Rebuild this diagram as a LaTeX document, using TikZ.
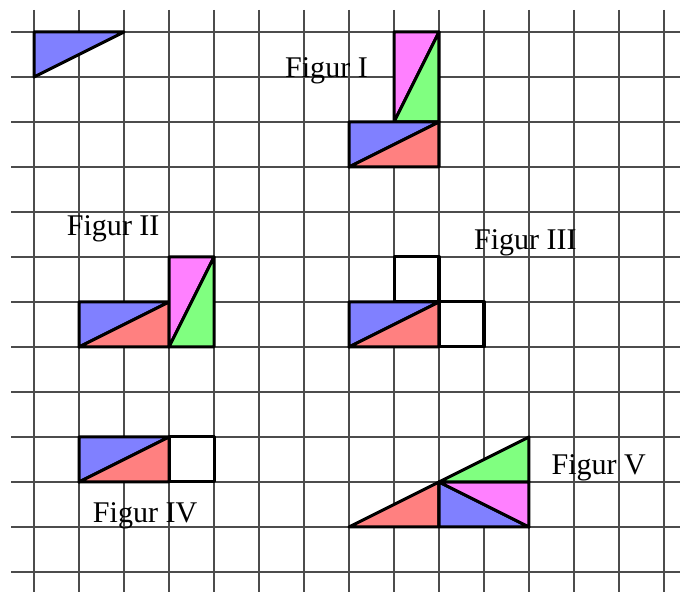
\documentclass[tikz,border=0pt]{standalone}
\usepackage{fontspec}
\setmainfont{Liberation Serif}
\usetikzlibrary{positioning}
\definecolor{cblue}{HTML}{8080FF}
\definecolor{cred}{HTML}{FF8080}
\definecolor{cgreen}{HTML}{80FF80}
\definecolor{cpink}{HTML}{FF80FF}
\tikzset{
  every picture/.style={line join=round},
  gridline/.style={draw=black!70, line width=0.7pt},
  piece/.style={fill=#1, draw=black, line width=1.9pt},
  piece/.default=white,
  label/.style={font=\fontsize{19}{21}\selectfont, inner sep=1pt},
}
\begin{document}
\begin{tikzpicture}[x=1cm, y=-1cm]
  \useasboundingbox (-0.756,-0.711) rectangle (14.356,12.444);
  % grid
  \foreach \i in {0,...,14} \draw[gridline] (\i,-0.489) -- (\i,12.444);
  \foreach \j in {0,...,12} \draw[gridline] (-0.511,\j) -- (14.356,\j);
  % the piece
  \draw[piece=cblue] (0,0) -- (2,0) -- (0,1) -- cycle;
  % Figur I
  \draw[piece=cpink] (8,0) -- (9,0) -- (8,2) -- cycle;
  \draw[piece=cgreen] (9,0) -- (9,2) -- (8,2) -- cycle;
  \draw[piece=cblue] (7,2) -- (9,2) -- (7,3) -- cycle;
  \draw[piece=cred] (9,2) -- (9,3) -- (7,3) -- cycle;
  \node[label] (f1) at (6.5,0.86) {Figur I};
  % Figur II
  \draw[piece=cblue] (1,6) -- (3,6) -- (1,7) -- cycle;
  \draw[piece=cred] (3,6) -- (3,7) -- (1,7) -- cycle;
  \draw[piece=cpink] (3,5) -- (4,5) -- (3,7) -- cycle;
  \draw[piece=cgreen] (4,5) -- (4,7) -- (3,7) -- cycle;
  \node[label] (f2) at (1.76,4.37) {Figur II};
  % Figur III
  \draw[piece] (8,5) rectangle (9,6);
  \draw[piece] (9,6) rectangle (10,7);
  \draw[piece=cblue] (7,6) -- (9,6) -- (7,7) -- cycle;
  \draw[piece=cred] (9,6) -- (9,7) -- (7,7) -- cycle;
  \node[label] (f3) at (10.92,4.68) {Figur III};
  % Figur IV
  \draw[piece] (3,9) rectangle (4,10);
  \draw[piece=cblue] (1,9) -- (3,9) -- (1,10) -- cycle;
  \draw[piece=cred] (3,9) -- (3,10) -- (1,10) -- cycle;
  \node[label] (f4) at (2.47,10.75) {Figur IV};
  % Figur V
  \draw[piece=cred] (7,11) -- (9,11) -- (9,10) -- cycle;
  \draw[piece=cblue] (9,11) -- (11,11) -- (9,10) -- cycle;
  \draw[piece=cpink] (9,10) -- (11,10) -- (11,11) -- cycle;
  \draw[piece=cgreen] (9,10) -- (11,9) -- (11,10) -- cycle;
  \node[label] (f5) at (12.55,9.68) {Figur V};
\end{tikzpicture}
\end{document}
